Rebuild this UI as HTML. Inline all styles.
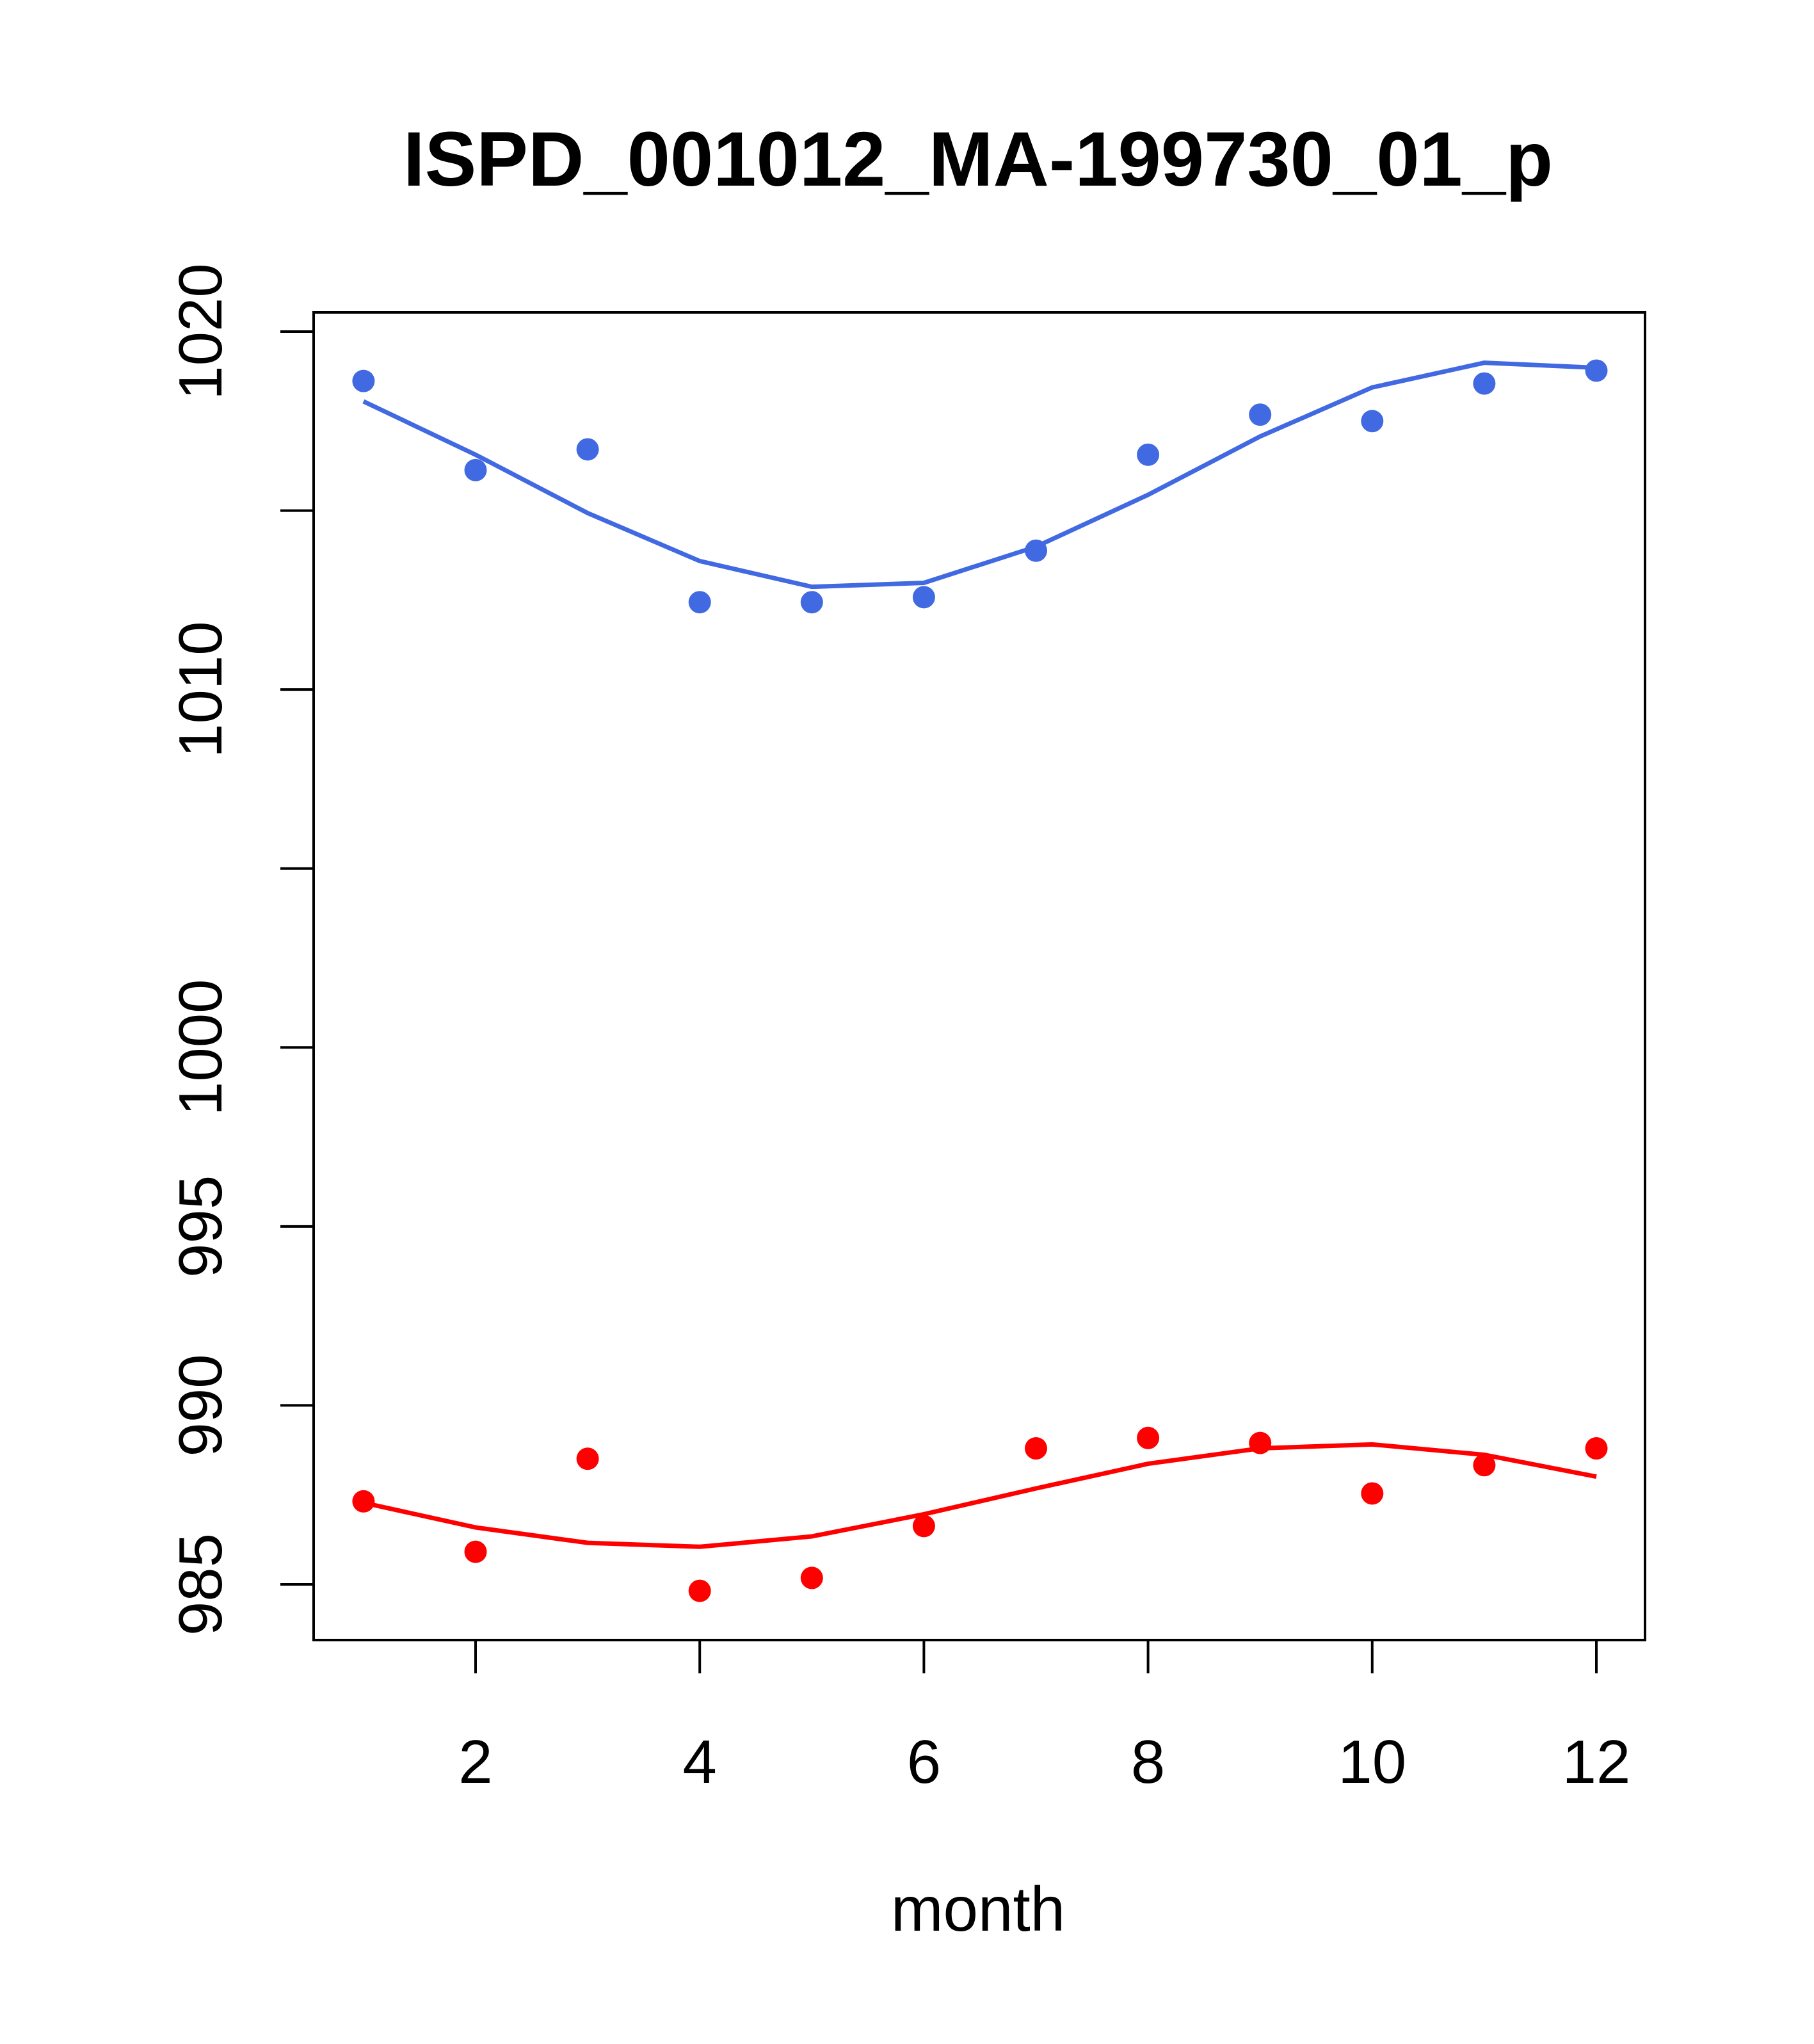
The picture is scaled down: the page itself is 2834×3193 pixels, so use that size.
<!DOCTYPE html>
<html><head><meta charset="utf-8"><style>
html,body{margin:0;padding:0;background:#fff;}
svg text{font-family:"Liberation Sans",Arial,sans-serif;fill:#000;}
</style></head><body>
<svg id="chart" width="2834" height="3188" viewBox="0 0 2834 3188" xmlns="http://www.w3.org/2000/svg">
<rect width="2834" height="3188" fill="#fff"/>
<text x="1528" y="290" font-size="121" font-weight="bold" text-anchor="middle">ISPD_001012_MA-199730_01_p</text>
<rect x="490" y="488" width="2080" height="2074" fill="none" stroke="#000" stroke-width="4"/>
<text x="1528" y="3016" font-size="98" text-anchor="middle">month</text>
<g id="axes"></g>
<g id="series"></g>
</svg>
<script>
const months = [1,2,3,4,5,6,7,8,9,10,11,12];
const bluePoints = [1018.62,1016.13,1016.71,1012.44,1012.44,1012.58,1013.88,1016.56,1017.68,1017.50,1018.55,1018.91];
const blueLine = [1018.05,1016.56,1014.93,1013.59,1012.87,1012.98,1013.99,1015.44,1017.07,1018.44,1019.13,1018.99];
const redPoints = [987.32,985.91,988.51,984.82,985.18,986.63,988.80,989.09,988.95,987.54,988.33,988.80];
const redLine = [987.28,986.59,986.16,986.05,986.34,986.96,987.68,988.37,988.80,988.91,988.62,988.01];
const xTicks = [2,4,6,8,10,12];
const yTicks = [985,990,995,1000,1005,1010,1015,1020];
const yTickLabels = ["985","990","995","1000","","1010","","1020"];

const NS = "http://www.w3.org/2000/svg";
const xS = v => 743 + (v - 2) * (2494 - 743) / 10;
const yS = v => 2475 - (v - 985) * (2475 - 518) / 35;
const axes = document.getElementById('axes');
const series = document.getElementById('series');
function mk(tag, attrs, parent){const e=document.createElementNS(NS,tag);for(const k in attrs)e.setAttribute(k,attrs[k]);parent.appendChild(e);return e;}

xTicks.forEach(t=>{
  const l = mk('line',{x1:xS(t),x2:xS(t),y1:2562,y2:2614,stroke:'#000','stroke-width':4},axes);
  
  
  const tx = mk('text',{x:xS(t),y:2785,'font-size':96,'text-anchor':'middle'},axes);
  tx.textContent = t;
  
  
});
yTicks.forEach((t,i)=>{
  const l = mk('line',{x1:438,x2:490,y1:yS(t),y2:yS(t),stroke:'#000','stroke-width':4},axes);
  
  
  if(yTickLabels[i]){
    const tx = mk('text',{x:346,y:yS(t),'font-size':96,'text-anchor':'middle',transform:`rotate(-90 346 ${yS(t)})`},axes);
    tx.textContent = yTickLabels[i];
    
    
  }
});
function drawSeries(pts, line, color, name){
  const p = mk('polyline',{points:line.map((v,i)=>xS(months[i])+','+yS(v)).join(' '),fill:'none',stroke:color,'stroke-width':7},series);
  
  
  pts.forEach((v,i)=>{
    const c = mk('circle',{cx:xS(months[i]),cy:yS(v),r:17.5,fill:color},series);
    
    
  });
}
drawSeries(bluePoints, blueLine, '#4169e1', 'blue-series');
drawSeries(redPoints, redLine, '#ff0000', 'red-series');
</script>
</body></html>
